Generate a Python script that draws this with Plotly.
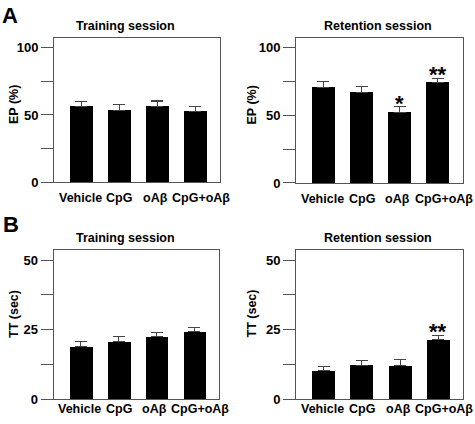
import plotly.graph_objects as go

categories = ["Vehicle", "CpG", "oAβ", "CpG+oAβ"]

ep_training = [56.3, 53.4, 56.2, 52.5]
ep_training_err = [3.6, 4.2, 4.1, 3.7]
ep_retention = [70.4, 67.0, 52.2, 74.3]
ep_retention_err = [4.2, 4.0, 4.2, 3.1]
tt_training = [18.8, 20.6, 22.5, 24.4]
tt_training_err = [1.9, 1.8, 1.6, 1.5]
tt_retention = [10.3, 12.2, 12.0, 21.4]
tt_retention_err = [1.5, 1.8, 2.1, 1.6]

ep_ticks = [0, 25, 50, 75, 100]
ep_ticktext = ["0", "", "50", "", "100"]
tt_ticks = [0, 12.5, 25, 37.5, 50]
tt_ticktext = ["0", "", "25", "", "50"]

stars_ep_retention = ["", "", "*", "**"]
stars_tt_retention = ["", "", "", "**"]

W, H = 475, 424
FONT = "Arial, Liberation Sans, sans-serif"
AX = "#555555"

# panel geometry in pixels: (left, right, top, bottom)
panels = [
    dict(name="1", px=(54, 220, 39, 186), vals=ep_training, err=ep_training_err,
         ticks=ep_ticks, ttext=ep_ticktext, yr=[0, 106.8], title="Training session",
         ytitle="EP (%)", stars=None, tx=125.5, ty=26, yx=14, yy=107, lab_shift=-7),
    dict(name="2", px=(296, 462.5, 39, 186.5), vals=ep_retention, err=ep_retention_err,
         ticks=ep_ticks, ttext=ep_ticktext, yr=[0, 106.8], title="Retention session",
         ytitle="EP (%)", stars=stars_ep_retention, tx=377.5, ty=27, yx=251.5, yy=107, lab_shift=-7),
    dict(name="3", px=(53.5, 219, 254.5, 406.7), vals=tt_training, err=tt_training_err,
         ticks=tt_ticks, ttext=tt_ticktext, yr=[0, 53.8], title="Training session",
         ytitle="TT (sec)", stars=None, tx=125.5, ty=243, yx=14, yy=320, lab_shift=-1),
    dict(name="4", px=(296, 463.3, 254.5, 406.7), vals=tt_retention, err=tt_retention_err,
         ticks=tt_ticks, ttext=tt_ticktext, yr=[0, 53.8], title="Retention session",
         ytitle="TT (sec)", stars=stars_tt_retention, tx=377.5, ty=243, yx=251.5, yy=320, lab_shift=-1),
]

label_xshift = [-1, 0, -2, 6]

fig = go.Figure()
annotations = []
layout_axes = {}
xidx = list(range(len(categories)))

for p in panels:
    n = p["name"]
    l, r, t, b = p["px"]
    xa = "x" if n == "1" else "x" + n
    ya = "y" if n == "1" else "y" + n
    fig.add_trace(go.Bar(
        x=xidx, y=p["vals"], width=0.6, marker=dict(color="black", line=dict(width=0)),
        error_y=dict(type="data", array=p["err"], arrayminus=[0] * 4, symmetric=False,
                     color="#444444", thickness=1.2, width=6),
        xaxis=xa, yaxis=ya, showlegend=False, hoverinfo="skip"))
    kx = "xaxis" if n == "1" else "xaxis" + n
    ky = "yaxis" if n == "1" else "yaxis" + n
    layout_axes[kx] = dict(domain=[l / W, r / W], range=[-0.72, 3.65], anchor=ya,
                           showline=True, linecolor=AX, linewidth=1, mirror=True,
                           showticklabels=False, ticks="", showgrid=False, zeroline=False,
                           fixedrange=True)
    layout_axes[ky] = dict(domain=[1 - b / H, 1 - t / H], range=p["yr"], anchor=xa,
                           showline=True, linecolor=AX, linewidth=1, mirror=True,
                           tickvals=p["ticks"], ticktext=p["ttext"], ticks="outside",
                           ticklen=12, tickcolor=AX, tickwidth=1, showgrid=False,
                           zeroline=False,
                           tickfont=dict(family=FONT, size=13, color="black", weight="bold"))
    annotations.append(dict(text=p["title"], x=p["tx"] / W, y=1 - p["ty"] / H,
                            xref="paper", yref="paper", xanchor="center", yanchor="middle",
                            showarrow=False,
                            font=dict(family=FONT, size=12.5, color="black", weight="bold")))
    annotations.append(dict(text=p["ytitle"], x=p["yx"] / W, y=1 - p["yy"] / H,
                            xref="paper", yref="paper", xanchor="center", yanchor="middle",
                            textangle=-90, showarrow=False,
                            font=dict(family=FONT, size=12.5, color="black", weight="bold")))
    for i, c in enumerate(categories):
        annotations.append(dict(text=c, x=i, y=1 - b / H, xref=xa, yref="paper",
                                xanchor="center", yanchor="top", yshift=p["lab_shift"],
                                xshift=label_xshift[i], showarrow=False,
                                font=dict(family=FONT, size=12.5, color="black", weight="bold")))
    if p["stars"]:
        for i, s in enumerate(p["stars"]):
            if s:
                annotations.append(dict(text=s, x=i, y=p["vals"][i] + p["err"][i],
                                        xref=xa, yref=ya, xanchor="center", yanchor="bottom",
                                        yshift=-11, showarrow=False,
                                        font=dict(family=FONT, size=22, color="black", weight="bold")))

annotations.append(dict(text="A", x=0, y=1 - 1 / H, xref="paper", yref="paper",
                        xanchor="left", yanchor="top", showarrow=False,
                        font=dict(family=FONT, size=22, color="black", weight="bold")))
annotations.append(dict(text="B", x=1 / W, y=1 - 214 / H, xref="paper", yref="paper",
                        xanchor="left", yanchor="top", showarrow=False,
                        font=dict(family=FONT, size=22, color="black", weight="bold")))

fig.update_layout(width=W, height=H, margin=dict(l=0, r=0, t=0, b=0),
                  paper_bgcolor="white", plot_bgcolor="white",
                  annotations=annotations, bargap=0, **layout_axes)

fig.write_html("out.html", config={"displayModeBar": False},
               post_script="document.body.style.margin='0';document.body.style.overflow='hidden';")
